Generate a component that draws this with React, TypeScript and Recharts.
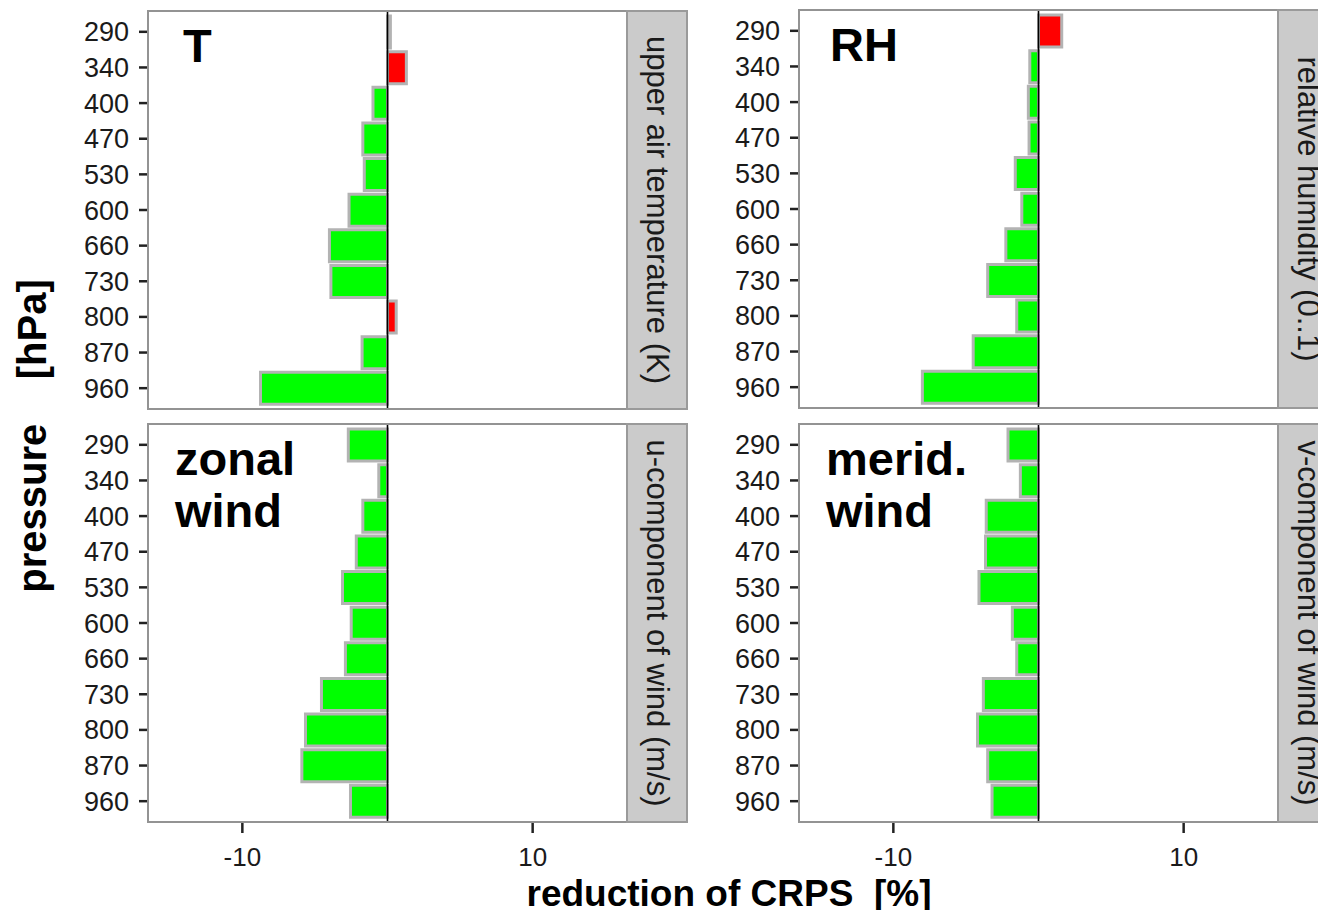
import React from "react";
import { BarChart, Bar, XAxis, YAxis, Cell, ReferenceLine } from "recharts";

// Pressure levels (hPa), top of the panel to bottom
const pressureLevels = ["290", "340", "400", "470", "530", "600", "660", "730", "800", "870", "960"];

// Reduction of CRPS [%] per pressure level
const temperature = [0.2, 1.3, -1.0, -1.7, -1.6, -2.65, -4.0, -3.9, 0.6, -1.75, -8.75];
const humidity = [1.6, -0.6, -0.7, -0.65, -1.6, -1.15, -2.25, -3.5, -1.5, -4.5, -8.0];
const zonalWind = [-2.7, -0.6, -1.7, -2.15, -3.1, -2.5, -2.9, -4.55, -5.65, -5.9, -2.55];
const meridWind = [-2.1, -1.25, -3.6, -3.65, -4.1, -1.8, -1.5, -3.8, -4.2, -3.5, -3.2];

const xTicks = [-10, 10];
const xDomain: [number, number] = [-16.5, 16.5];

const FONT = "'Liberation Sans', Arial, Helvetica, sans-serif";
const POS = "#ff0000";
const NEG = "#00ff00";
const OUTLINE = "#b3b3b3";

const Y_AXIS_W = 148;
const PLOT_W = 479;
const PLOT_H = 398;
const STRIP_W = 60;

type PanelSpec = {
  values: number[];
  label: string[];
  strip: string;
  left: number; // chart origin x
  top: number; // plot top y
  xAxis: boolean;
};

const panels: PanelSpec[] = [
  { values: temperature, label: ["T"], strip: "upper air temperature (K)", left: 0, top: 11, xAxis: false },
  { values: humidity, label: ["RH"], strip: "relative humidity (0..1)", left: 651, top: 10, xAxis: false },
  { values: zonalWind, label: ["zonal", "wind"], strip: "u-component of wind (m/s)", left: 0, top: 424, xAxis: true },
  { values: meridWind, label: ["merid.", "wind"], strip: "v-component of wind (m/s)", left: 651, top: 424, xAxis: true },
];

function Panel({ spec }: { spec: PanelSpec }) {
  const data = pressureLevels.map((p, i) => ({ p, v: spec.values[i] }));
  const xh = spec.xAxis ? 80 : 0;
  return (
    <div style={{ position: "absolute", left: spec.left, top: spec.top }}>
      <BarChart
        layout="vertical"
        width={Y_AXIS_W + PLOT_W}
        height={PLOT_H + xh}
        data={data}
        margin={{ top: 0, right: 0, bottom: 0, left: 0 }}
        barCategoryGap={0}
      >
        <XAxis
          type="number"
          domain={xDomain}
          ticks={xTicks}
          allowDataOverflow
          hide={!spec.xAxis}
          height={xh || 1}
          axisLine={false}
          tickSize={11}
          tickMargin={15}
          tickLine={{ stroke: "#222", strokeWidth: 2.5 }}
          tick={{ fill: "#1a1a1a", fontSize: 26, fontFamily: FONT }}
        />
        <YAxis
          type="category"
          dataKey="p"
          width={Y_AXIS_W}
          padding={{ top: 3, bottom: 3 }}
          axisLine={false}
          tickSize={9}
          tickMargin={10}
          interval={0}
          tickLine={{ stroke: "#222", strokeWidth: 2.5 }}
          tick={{ fill: "#1a1a1a", fontSize: 27, fontFamily: FONT }}
        />
        <Bar dataKey="v" barSize={32} stroke={OUTLINE} strokeWidth={3} isAnimationActive={false}>
          {data.map((d, i) => (
            <Cell key={i} fill={d.v > 0 ? POS : NEG} />
          ))}
        </Bar>
        <ReferenceLine x={0} stroke="#000" strokeWidth={1.6} />
      </BarChart>
    </div>
  );
}

function Overlay() {
  return (
    <svg
      width={1318}
      height={910}
      style={{ position: "absolute", left: 0, top: 0, pointerEvents: "none" }}
      fontFamily={FONT}
    >
      {panels.map((s, k) => {
        const px = s.left + Y_AXIS_W;
        const py = s.top;
        const sx = px + PLOT_W;
        const cx = sx + STRIP_W / 2;
        const cy = py + PLOT_H / 2;
        return (
          <g key={k}>
            <rect x={px} y={py} width={PLOT_W} height={PLOT_H} fill="none" stroke="#939393" strokeWidth={2} />
            <rect x={sx} y={py} width={STRIP_W} height={PLOT_H} fill="#cbcbcb" stroke="#9a9a9a" strokeWidth={2} />
            <text
              x={cx}
              y={cy}
              transform={`rotate(90 ${cx} ${cy})`}
              textAnchor="middle"
              dominantBaseline="central"
              fontSize={31}
              fill="#1a1a1a"
            >
              {s.strip}
            </text>
            {s.label.map((line, j) => (
              <text
                key={j}
                x={px + (s.label.length > 1 ? 27 : s.left === 0 ? 35 : 31)}
                y={py + 51 + j * 52}
                fontSize={47}
                fontWeight="bold"
                fill="#000"
              >
                {line}
              </text>
            ))}
          </g>
        );
      })}
      <text
        x={729}
        y={906}
        textAnchor="middle"
        fontSize={37}
        fontWeight="bold"
        fill="#000"
        style={{ whiteSpace: "pre" }}
      >
        {"reduction of CRPS  [%]"}
      </text>
      <text
        x={46}
        y={436}
        transform="rotate(-90 46 436)"
        textAnchor="middle"
        fontSize={40}
        fontWeight="bold"
        fill="#000"
        style={{ whiteSpace: "pre" }}
      >
        {"pressure    [hPa]"}
      </text>
    </svg>
  );
}

export default function App() {
  return (
    <div style={{ position: "absolute", left: 0, top: 0, width: 1318, height: 910, background: "#fff", overflow: "hidden" }}>
      {panels.map((s, k) => (
        <Panel key={k} spec={s} />
      ))}
      <Overlay />
    </div>
  );
}
